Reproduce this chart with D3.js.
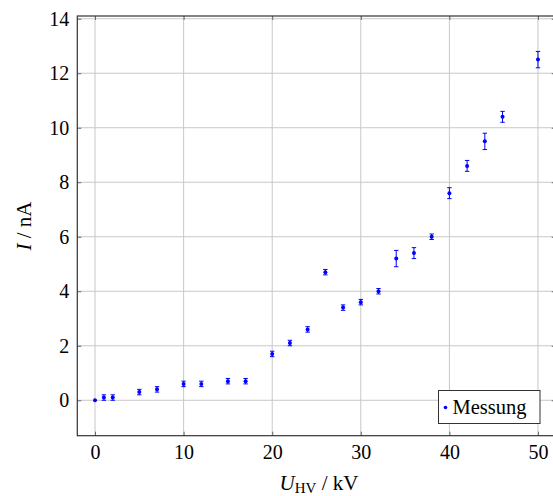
<!DOCTYPE html>
<html>
<head>
<meta charset="utf-8">
<script src="https://cdn.jsdelivr.net/npm/d3@7"></script>
<style>
  html, body { margin: 0; padding: 0; background: #fff; }
  svg { display: block; font-family: "Liberation Serif", "Times New Roman", serif; }
</style>
</head>
<body>
<script>
// Data
const voltages = [0, 1, 2, 5, 7, 10, 12, 15, 17, 20, 22, 24, 26, 28, 30, 32, 34, 36, 38, 40, 42, 44, 46, 50];
const currents = [0, 0.1, 0.1, 0.3, 0.4, 0.6, 0.6, 0.7, 0.7, 1.7, 2.1, 2.6, 4.7, 3.4, 3.6, 4.0, 5.2, 5.4, 6.0, 7.6, 8.6, 9.5, 10.4, 12.5];
const errors   = [0, 0.1, 0.1, 0.1, 0.1, 0.1, 0.1, 0.1, 0.1, 0.1, 0.1, 0.1, 0.1, 0.1, 0.1, 0.1, 0.3, 0.2, 0.1, 0.2, 0.2, 0.3, 0.2, 0.3];
const xTicks = [0, 10, 20, 30, 40, 50];
const yTicks = [0, 2, 4, 6, 8, 10, 12, 14];
const legendLabel = "Messung";

const W = 553, H = 496;
const mLeft = 77.3, mRight = 555.7, mTop = 16, mBottom = 435.7;

const svg = d3.select("body").append("svg").attr("width", W).attr("height", H);

const x = d3.scaleLinear().domain([-2, 52]).range([mLeft, mRight]);
const y = d3.scaleLinear().domain([-1.3, 14.1]).range([mBottom, mTop]);

const gridColor = "#c8c8c8";

// grid
svg.append("g").selectAll("line").data(xTicks).join("line")
  .attr("x1", d => x(d)).attr("x2", d => x(d)).attr("y1", mTop).attr("y2", mBottom)
  .attr("stroke", gridColor).attr("stroke-width", 1);
svg.append("g").selectAll("line").data(yTicks).join("line")
  .attr("x1", mLeft).attr("x2", mRight).attr("y1", d => y(d)).attr("y2", d => y(d))
  .attr("stroke", gridColor).attr("stroke-width", 1);

// axes
const fs = "20px";
const xAxis = svg.append("g").attr("transform", `translate(0,${mBottom})`)
  .call(d3.axisBottom(x).tickValues(xTicks).tickSize(-4).tickPadding(9).tickFormat(d3.format("d")));
const yAxis = svg.append("g").attr("transform", `translate(${mLeft},0)`)
  .call(d3.axisLeft(y).tickValues(yTicks).tickSize(-4).tickPadding(8).tickFormat(d3.format("d")));
const xAxisTop = svg.append("g").attr("transform", `translate(0,${mTop})`)
  .call(d3.axisTop(x).tickValues(xTicks).tickSize(-4).tickFormat(""));
const yAxisRight = svg.append("g").attr("transform", `translate(${mRight},0)`)
  .call(d3.axisRight(y).tickValues(yTicks).tickSize(-4).tickFormat(""));
[xAxis, yAxis, xAxisTop, yAxisRight].forEach(g => {
  g.select(".domain").remove();
  g.selectAll(".tick line").attr("stroke", "#666");
  g.selectAll("text").attr("font-size", fs).attr("font-family", "Liberation Serif").attr("fill", "#000");
});

// frame
svg.append("rect").attr("x", mLeft).attr("y", mTop)
  .attr("width", mRight - mLeft).attr("height", mBottom - mTop)
  .attr("fill", "none").attr("stroke", "#333").attr("stroke-width", 1.2);

// data
const pts = voltages.map((v, i) => ({ v, c: currents[i], e: errors[i] }));
const blue = "#0000ff";
const gp = svg.append("g");
pts.forEach(p => {
  if (p.e > 0) {
    const cx = x(p.v), y1 = y(p.c - p.e), y2 = y(p.c + p.e);
    gp.append("line").attr("x1", cx).attr("x2", cx).attr("y1", y1).attr("y2", y2)
      .attr("stroke", blue).attr("stroke-width", 1);
    [y1, y2].forEach(yy => gp.append("line").attr("x1", cx - 2.2).attr("x2", cx + 2.2)
      .attr("y1", yy).attr("y2", yy).attr("stroke", blue).attr("stroke-width", 1));
  }
  gp.append("circle").attr("cx", x(p.v)).attr("cy", y(p.c)).attr("r", 2).attr("fill", blue);
});

// legend
const lg = svg.append("g");
lg.append("rect").attr("x", 438.5).attr("y", 390.5).attr("width", 101.5).attr("height", 33)
  .attr("fill", "#fff").attr("stroke", "#333").attr("stroke-width", 1);
lg.append("circle").attr("cx", 445.5).attr("cy", 407.5).attr("r", 1.8).attr("fill", blue);
lg.append("text").attr("x", 452.5).attr("y", 414).attr("font-size", "20.5px").text(legendLabel);

// axis labels
const xl = svg.append("text").attr("x", 319).attr("y", 490).attr("text-anchor", "middle").attr("font-size", "21px");
xl.append("tspan").attr("font-style", "italic").text("U");
xl.append("tspan").attr("font-size", "15px").attr("dy", 3).text("HV");
xl.append("tspan").attr("dy", -3).text(" / kV");

const yl = svg.append("text").attr("transform", `translate(31,226) rotate(-90)`)
  .attr("text-anchor", "middle").attr("font-size", "21px");
yl.append("tspan").attr("font-style", "italic").text("I");
yl.append("tspan").text(" / nA");
</script>
</body>
</html>
